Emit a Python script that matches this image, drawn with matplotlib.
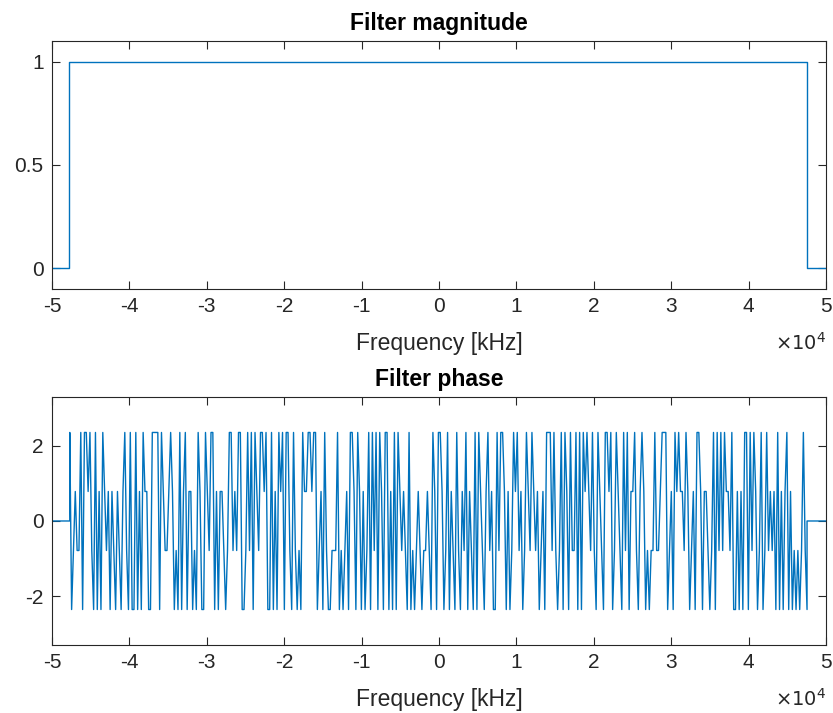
import numpy as np
import matplotlib
matplotlib.use("Agg")
import matplotlib.pyplot as plt
from matplotlib.ticker import FuncFormatter

plt.rcParams['font.family'] = ['Liberation Sans', 'DejaVu Sans']

# Filter magnitude: passband edges in Hz
mag_freq = [-50000, -47750, -47750, 47600, 47600, 50000]
mag_vals = [0, 0, 1, 1, 0, 0]

# Filter phase: one code per bin across the passband (QPSK levels)
phase_levels = [-3 * np.pi / 4, -np.pi / 4, np.pi / 4, 3 * np.pi / 4]
phase_codes = (
    "3012113033231030203212021021023103003020322003333032112"
    "3201030230220103200321330202210133121330013130321332300302032303310"
    "3101032233233012031001113010120332032020130313032033020303212103010121"
    "0112103203320130210310213021030321023120031332020132312013213212012033"
    "3131013032031130303232131032103323013210313022310232010113112333012032"
    "32213201203320221013031313221300202033031320130131212030202302010101310"
)
pass_lo, pass_hi = -47700, 47550
edge_freq = [-50000, pass_lo]
tail_freq = [pass_hi, 50000]

phase = np.array([phase_levels[int(c)] for c in phase_codes])
phase_freq = np.linspace(pass_lo, pass_hi, len(phase))
freq_all = np.concatenate([edge_freq, phase_freq, tail_freq])
phase_all = np.concatenate([[0, 0], phase, [0, 0]])

line_color = '#0072BD'
axis_color = '#262626'
fs = 15
fs_lab = 16.5

fig = plt.figure(figsize=(8.33, 7.13), dpi=100)
ax1 = fig.add_axes([0.0624, 0.5947, 0.9292, 0.3478])
ax2 = fig.add_axes([0.0624, 0.0954, 0.9292, 0.3478])

ax1.plot(mag_freq, mag_vals, color=line_color, lw=1.0)
ax1.set_ylim(-0.1, 1.1)
ax1.set_yticks([0, 0.5, 1])
ax1.set_yticklabels(['0', '0.5', '1'])
ax1.set_title('Filter magnitude', fontsize=fs_lab, fontweight='bold', pad=8)

ax2.plot(freq_all, phase_all, color=line_color, lw=1.0)
ax2.set_ylim(-3.3, 3.3)
ax2.set_yticks([-2, 0, 2])
ax2.set_yticklabels(['-2', '0', '2'])
ax2.set_title('Filter phase', fontsize=fs_lab, fontweight='bold', pad=8)

for ax in (ax1, ax2):
    ax.set_xlim(-50000, 50000)
    ax.set_xticks(np.arange(-50000, 50001, 10000))
    ax.xaxis.set_major_formatter(FuncFormatter(lambda v, p: f"{v / 1e4:g}".replace('−', '-')))
    ax.set_xlabel('Frequency [kHz]', fontsize=fs_lab, color=axis_color, labelpad=11)
    ax.tick_params(direction='in', top=True, right=True, length=6, width=0.8,
                   labelsize=fs, colors=axis_color, pad=6)
    for s in ax.spines.values():
        s.set_color(axis_color)
        s.set_linewidth(0.8)
    ax.text(1.0, -0.175, r'$\times10^{4}$', transform=ax.transAxes, ha='right', va='top',
            fontsize=14, color=axis_color, math_fontfamily='dejavusans')

fig.savefig('out.png', dpi=100)
